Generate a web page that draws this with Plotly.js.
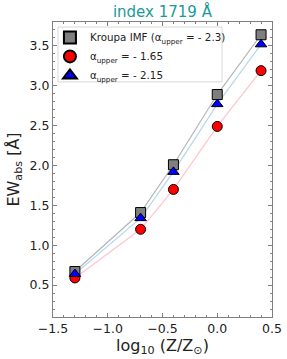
<!DOCTYPE html>
<html><head><meta charset="utf-8">
<script src="https://cdn.plot.ly/plotly-3.0.1.min.js"></script>
<style>html,body{margin:0;padding:0;background:#fff}#chart{width:287px;height:359px}</style>
</head><body><div id="chart"></div>
<script>
const logZ = [-1.3, -0.7, -0.4, 0.0, 0.4];
const ewKroupa = [0.67, 1.41, 2.01, 2.89, 3.64];
const ewA165 = [0.59, 1.20, 1.70, 2.49, 3.19];
const ewA215 = [0.64, 1.34, 1.92, 2.77, 3.52];
const xTicks = [-1.5, -1.0, -0.5, 0.0, 0.5];
const xTickText = ['\u22121.5', '\u22121.0', '\u22120.5', '0.0', '0.5'];
const yTicks = [0.5, 1.0, 1.5, 2.0, 2.5, 3.0, 3.5];
const yTickText = ['0.5', '1.0', '1.5', '2.0', '2.5', '3.0', '3.5'];

const font = 'DejaVu Sans';
const traces = [
  {x: logZ, y: ewKroupa, mode: 'lines', line: {color: 'rgba(150,150,150,0.7)', width: 1.2}, showlegend: false, hoverinfo: 'skip'},
  {x: logZ, y: ewA215, mode: 'lines', line: {color: 'rgba(150,200,230,0.7)', width: 1.2}, showlegend: false, hoverinfo: 'skip'},
  {x: logZ, y: ewA165, mode: 'lines', line: {color: 'rgba(255,170,185,0.7)', width: 1.2}, showlegend: false, hoverinfo: 'skip'},
  {x: logZ, y: ewKroupa, mode: 'markers', name: 'Kroupa IMF (\u03b1<sub>upper</sub> = - 2.3)',
   marker: {symbol: 'square', size: 10, color: '#7f7f7f', line: {color: '#000', width: 1}}},
  {x: logZ, y: ewA165, mode: 'markers', name: '\u03b1<sub>upper</sub> = - 1.65',
   marker: {symbol: 'circle', size: 10, color: '#ff0000', line: {color: '#000', width: 1}}},
  {x: logZ, y: ewA215, mode: 'markers', name: '\u03b1<sub>upper</sub> = - 2.15',
   marker: {symbol: 'triangle-up', size: 10, color: '#0000ff', line: {color: '#000', width: 1}}}
];
const axisCommon = {
  showgrid: false, zeroline: false, showline: true, linecolor: '#808080', linewidth: 1,
  mirror: 'allticks', ticks: 'inside', ticklen: 4, tickcolor: '#808080',
  tickfont: {family: font, size: 12.5, color: '#222'}
};
const layout = {
  width: 287, height: 359,
  margin: {l: 53, r: 15, t: 22, b: 42},
  paper_bgcolor: '#fff', plot_bgcolor: '#fff',
  title: {text: 'index 1719 \u00c5', font: {family: font, size: 15, color: '#1a9a9a'}, x: 0.566, xanchor: 'center', y: 0.967, yanchor: 'middle'},
  xaxis: Object.assign({}, axisCommon, {range: [-1.5, 0.5], tickvals: xTicks, ticktext: xTickText,
    minor: {ticks: 'inside', ticklen: 2, tickcolor: '#808080', dtick: 0.1},
    title: {text: 'log<sub>10</sub> (Z/Z<sub>\u2299</sub>)', font: {family: font, size: 16, color: '#222'}, standoff: 3}}),
  yaxis: Object.assign({}, axisCommon, {range: [0.1, 3.8], tickvals: yTicks, ticktext: yTickText,
    minor: {ticks: 'inside', ticklen: 2, tickcolor: '#808080', dtick: 0.1},
    title: {text: 'EW<sub>abs</sub> [\u00c5]', font: {family: font, size: 16, color: '#222'}, standoff: 6}}),
  shapes: [{type: 'rect', xref: 'paper', yref: 'paper', x0: 0.0228, x1: 0.7717, y0: 0.797, y1: 0.983,
    fillcolor: 'rgba(255,255,255,0.85)', line: {color: '#d8d8d8', width: 1}, layer: 'below'}],
  legend: {x: -0.014, y: 0.997, xanchor: 'left', yanchor: 'top', bgcolor: 'rgba(0,0,0,0)',
    borderwidth: 0, font: {family: font, size: 10.3, color: '#222'},
    tracegroupgap: 0, itemsizing: 'constant'},
  showlegend: true
};
Plotly.newPlot('chart', traces, layout, {displayModeBar: false, staticPlot: true});
</script></body></html>
